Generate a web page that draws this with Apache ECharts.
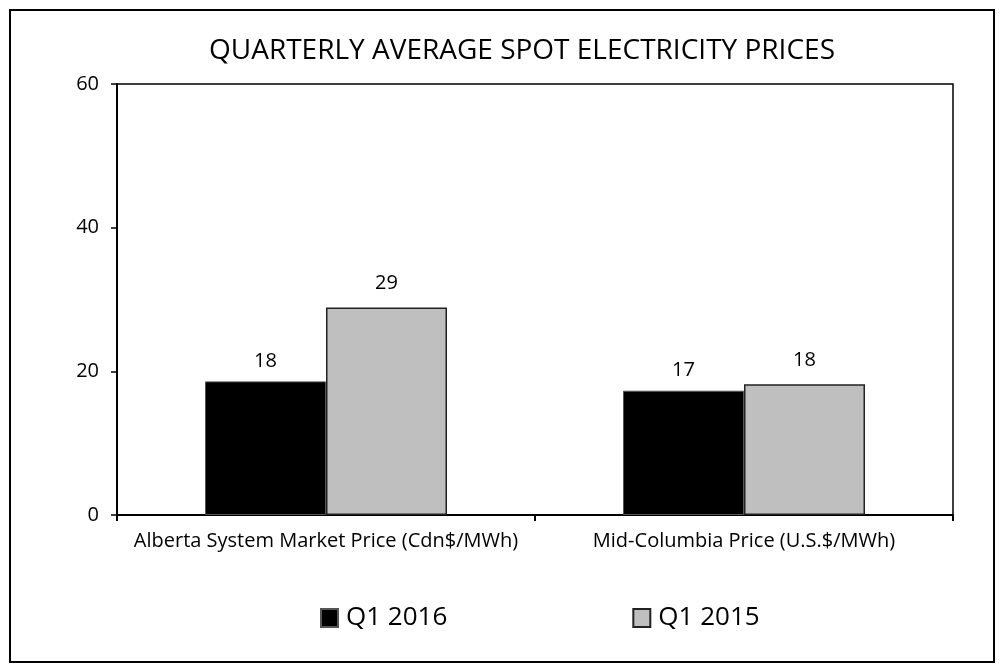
<!DOCTYPE html>
<html>
<head>
<meta charset="utf-8">
<script src="https://cdn.jsdelivr.net/npm/echarts@6/dist/echarts.min.js"></script>
<style>
html,body{margin:0;padding:0;background:#fff;}
#frame{position:absolute;left:9px;top:9px;width:982px;height:650px;border:2px solid #000;}
#chart{position:absolute;left:0;top:0;width:1003px;height:669px;}
</style>
</head>
<body>
<div id="frame"></div>
<div id="chart"></div>
<script>
const categories = ['Alberta System Market Price (Cdn$/MWh)', 'Mid-Columbia Price (U.S.$/MWh)'];
const q12016 = [18.6, 17.3];
const q12015 = [28.9, 18.2];
const labels2016 = ['18', '17'];
const labels2015 = ['29', '18'];
const yTicks = [0, 20, 40, 60];

const FONT = '"Open Sans", "Noto Sans", sans-serif';
const chart = echarts.init(document.getElementById('chart'), null, {renderer: 'canvas'});
chart.setOption({
  animation: false,
  backgroundColor: 'transparent',
  title: {
    text: 'QUARTERLY AVERAGE SPOT ELECTRICITY PRICES',
    left: 522, top: 37, textAlign: 'center', padding: 0,
    textStyle: {fontFamily: FONT, fontSize: 28, fontWeight: 'normal', color: '#000'}
  },
  legend: {
    data: ['Q1 2016', 'Q1 2015'],
    left: 320, top: 605, padding: 0,
    itemGap: 185, itemWidth: 17, itemHeight: 18,
    icon: 'rect',
    textStyle: {fontFamily: FONT, fontSize: 26, color: '#000', padding: [0,0,0,3]}
  },
  grid: {
    left: 117, right: 50, top: 84, bottom: 154,
    show: true, borderColor: '#000', borderWidth: 1.5, backgroundColor: 'transparent'
  },
  xAxis: {
    type: 'category', data: categories,
    axisLine: {lineStyle: {color: '#000', width: 2}},
    axisTick: {show: true, alignWithLabel: false, length: 6, lineStyle: {color: '#000', width: 2}},
    axisLabel: {interval: 0, hideOverlap: false, fontFamily: FONT, fontSize: 20, color: '#000', margin: 16}
  },
  yAxis: {
    type: 'value', min: 0, max: 60, interval: 20,
    splitLine: {show: false},
    axisLine: {show: true, lineStyle: {color: '#000', width: 2}},
    axisTick: {show: true, length: 6, lineStyle: {color: '#000', width: 1.5}},
    axisLabel: {fontFamily: FONT, fontSize: 20, color: '#000', margin: 18,
      formatter: v => yTicks.includes(v) ? String(v) : ''}
  },
  series: [
    {
      name: 'Q1 2016', type: 'bar', data: q12016, barWidth: 121, barGap: '0%',
      itemStyle: {color: '#000', borderColor: '#555', borderWidth: 1},
      label: {show: true, position: 'top', distance: 10, fontFamily: FONT, fontSize: 20, color: '#000',
        formatter: p => labels2016[p.dataIndex]}
    },
    {
      name: 'Q1 2015', type: 'bar', data: q12015, barWidth: 121,
      itemStyle: {color: '#BFBFBF', borderColor: '#222', borderWidth: 1.5},
      label: {show: true, position: 'top', distance: 14, fontFamily: FONT, fontSize: 20, color: '#000',
        formatter: p => labels2015[p.dataIndex]}
    }
  ]
});
</script>
</body>
</html>
